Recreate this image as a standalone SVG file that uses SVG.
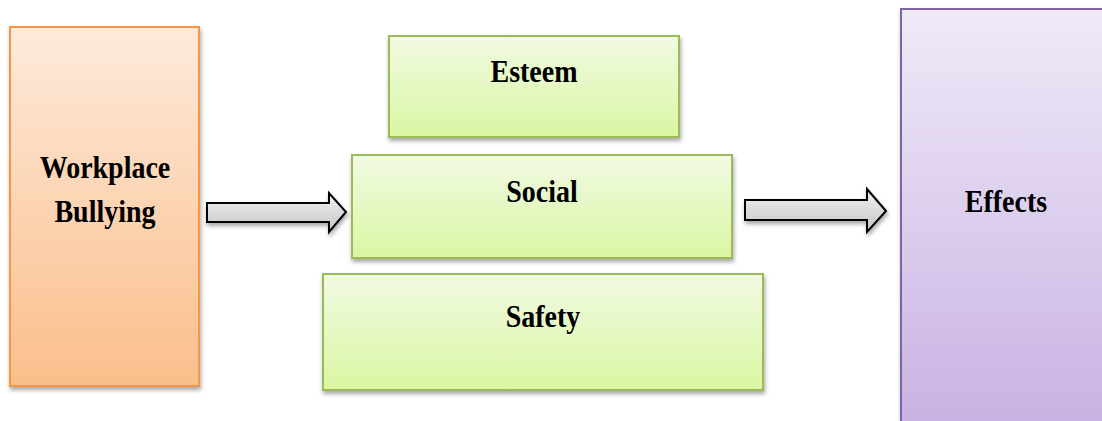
<svg xmlns="http://www.w3.org/2000/svg" width="1102" height="421" viewBox="0 0 1102 421">
<defs>
<linearGradient id="gOrange" x1="0" y1="0" x2="0" y2="1"><stop offset="0" stop-color="#FDEADB"/><stop offset="1" stop-color="#FBBE8B"/></linearGradient>
<linearGradient id="gGreen" x1="0" y1="0" x2="0" y2="1"><stop offset="0" stop-color="#F1FAE3"/><stop offset="1" stop-color="#DAF6A2"/></linearGradient>
<linearGradient id="gPurple" x1="0" y1="0" x2="0" y2="1"><stop offset="0" stop-color="#F0EAF8"/><stop offset="1" stop-color="#C7B0E2"/></linearGradient>
<linearGradient id="gGrey" x1="0" y1="0" x2="0" y2="1"><stop offset="0" stop-color="#F2F2F2"/><stop offset="1" stop-color="#C4C4C4"/></linearGradient>
<filter id="sh" x="-10%" y="-10%" width="120%" height="130%"><feDropShadow dx="1" dy="3" stdDeviation="2" flood-color="#000" flood-opacity="0.35"/></filter>
</defs>
<style>
.lbl{font-family:"Liberation Serif","Times New Roman",serif;font-weight:bold;font-size:28px;fill:#000;text-anchor:middle}
.org{fill:url(#gOrange);stroke:#F79646;stroke-width:2}
.grn{fill:url(#gGreen);stroke:#9BBB59;stroke-width:2}
.pur{fill:url(#gPurple);stroke:#8064A2;stroke-width:2}
.arr{fill:url(#gGrey);stroke:#000;stroke-width:2;stroke-linejoin:miter}
</style>
<rect width="1102" height="421" fill="#fff"/>
<g id="workplace-bullying">
<rect class="org" x="10" y="27" width="189" height="359" filter="url(#sh)"/>
<text class="lbl" transform="translate(105,178) scale(1,1.13)">Workplace</text>
<text class="lbl" transform="translate(105,222) scale(1,1.13)">Bullying</text>
</g>
<g id="esteem">
<rect class="grn" x="389" y="36" width="290" height="101" filter="url(#sh)"/>
<text class="lbl" transform="translate(534,82) scale(1,1.13)">Esteem</text>
</g>
<g id="social">
<rect class="grn" x="352" y="155" width="380" height="103" filter="url(#sh)"/>
<text class="lbl" transform="translate(542,202) scale(1,1.13)">Social</text>
</g>
<g id="safety">
<rect class="grn" x="323" y="274" width="440" height="116" filter="url(#sh)"/>
<text class="lbl" transform="translate(543,327) scale(1,1.13)">Safety</text>
</g>
<g id="effects">
<rect class="pur" x="901" y="9" width="215" height="430" filter="url(#sh)"/>
<text class="lbl" transform="translate(1006,212) scale(1,1.13)">Effects</text>
</g>
<g id="connectors">
<path class="arr" filter="url(#sh)" d="M207,203 L329,203 L329,193 L346,212 L329,232 L329,222 L207,222 Z"/>
<path class="arr" filter="url(#sh)" d="M745,200 L867,200 L867,189 L886,211 L867,232 L867,220 L745,220 Z"/>
</g>
</svg>
